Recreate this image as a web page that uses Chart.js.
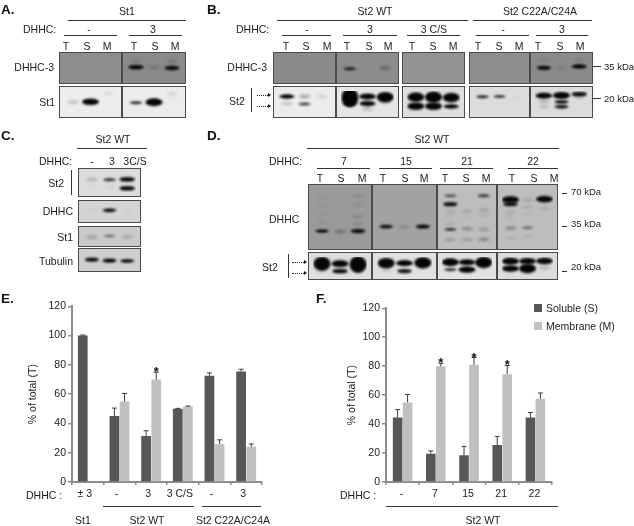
<!DOCTYPE html>
<html>
<head>
<meta charset="utf-8">
<title>DHHC blots</title>
<script src="https://cdn.jsdelivr.net/npm/chart.js@4"></script>
<style>
  html, body { margin: 0; padding: 0; background: #fff; }
  #fig { position: relative; width: 634px; height: 526px; overflow: hidden; font-family: "Liberation Sans", Arial, sans-serif; color: #222; }
  #fig span { position: absolute; font-size: 10.5px; line-height: 12px; white-space: nowrap; will-change: transform; }
  #fig span.panel { font-size: 13.5px; font-weight: bold; color: #111; }
  #fig span.kda { font-size: 9.5px; }
  #fig i { position: absolute; display: block; background: #333; }
  #fig i.dots { background: none; border-top: 1px dotted #222; }
  #fig canvas { position: absolute; }
</style>
</head>
<body>
<div id="fig"></div>
<script>
// bar chart E
const catsE = ["± 3", "-", "3", "3 C/S", "-", "3"];
const solubleE = [100, 45, 31.5, 50, 72.5, 75.5];
const membraneE = [null, 55, 70, 51.5, 26, 24];
const errSolubleE = [0.4, 5.5, 3.5, 0.3, 2, 1.5];
const errMembraneE = [null, 5.5, 5, 0.4, 2.8, 2];
const starsE = [null, null, "*", null, null, null];

// bar chart F
const catsF = ["-", "7", "15", "21", "22"];
const solubleF = [44.5, 19.5, 18.5, 25.5, 44.5];
const membraneF = [55, 80, 81, 74.5, 57.5];
const errSolubleF = [5.5, 2, 6, 6, 3.5];
const errMembraneF = [5.5, 2, 5, 6, 4];
const starsF = [null, "*", "*", "*", null];

// blot bands: lane, migration (% of the panel height), intensity
const lanes = ["T", "S", "M"];
const aTopRight = [["T", 46, 1.6], ["T", 16, 0.25], ["S", 48, 0.35], ["M", 50, 1.5], ["M", 18, 0.3]];
const aLowLeft = [["T", 50, 0.4], ["S", 49, 2.2], ["M", 12, 0.2]];
const aLowRight = [["T", 53, 0.9], ["S", 51, 2.6], ["M", 12, 0.25], ["M", 34, 0.12]];
const bTop3 = [["T", 53, 0.9], ["M", 50, 0.5]];
const bTopMutant = [["T", 49, 1.3], ["T", 10, 0.2], ["S", 49, 0.25], ["M", 43, 1.5], ["M", 12, 0.2]];
const bLowNone = [["T", 25, 1.5], ["T", 57, 0.4], ["S", 25, 0.5], ["S", 59, 0.8], ["M", 25, 0.25]];
const bLow3 = [["T", 30, 5], ["T", 58, 1], ["S", 25, 2], ["S", 57, 1.8], ["S", 82, 0.4], ["M", 28, 3.2], ["M", 50, 0.4]];
const bLowCS = [["T", 28, 3], ["T", 69, 2.5], ["S", 28, 3.5], ["S", 69, 2.5], ["M", 30, 3], ["M", 70, 1.5]];
const bLowMutNone = [["T", 26, 0.9], ["S", 25, 0.8], ["M", 28, 0.15]];
const bLowMut3 = [["T", 21, 2], ["T", 47, 0.4], ["T", 70, 0.3], ["S", 20, 2.3], ["S", 49, 1.2], ["S", 71, 1.2], ["M", 14, 1.6], ["M", 28, 0.3]];
const cSt2 = [["T", 33, 0.4], ["T", 68, 0.12], ["S", 35, 0.9], ["S", 75, 0.15], ["M", 33, 1.6], ["M", 80, 1.6]];
const cDhhc = [["T", 45, 0.12], ["S", 40, 1.1], ["M", 50, 0.1]];
const cSt1 = [["T", 54, 0.45], ["S", 46, 0.6], ["M", 53, 0.4]];
const cTubulin = [["T", 47, 1.3], ["S", 54, 1.3], ["M", 56, 1.2]];
const dTop7 = [["T", 75, 1], ["T", 15, 0.15], ["T", 30, 0.15], ["T", 45, 0.15], ["T", 58, 0.15], ["S", 76, 0.5], ["S", 48, 0.08],
  ["M", 75, 1.4], ["M", 12, 0.25], ["M", 28, 0.2], ["M", 50, 0.3], ["M", 62, 0.25]];
const dTop15 = [["T", 67, 1.1], ["S", 68, 0.35], ["M", 67, 1.3]];
const dTop21 = [["T", 12, 0.7], ["T", 27, 1.4], ["T", 40, 0.25], ["T", 48, 0.15], ["T", 62, 0.25], ["T", 72, 0.8], ["T", 90, 0.35],
  ["S", 40, 0.3], ["S", 50, 0.15], ["S", 71, 0.5], ["S", 90, 0.35], ["M", 12, 0.8], ["M", 38, 0.35], ["M", 47, 0.2], ["M", 72, 0.4], ["M", 90, 0.5]];
const dTop22 = [["T", 19, 2.4], ["T", 27, 1.4], ["T", 42, 0.25], ["T", 50, 0.15], ["T", 70, 0.5], ["T", 88, 0.2],
  ["S", 20, 0.3], ["S", 32, 0.25], ["S", 45, 0.15], ["S", 69, 0.6], ["S", 85, 0.2], ["M", 18, 2.2], ["M", 35, 0.25], ["M", 72, 0.08]];
const dLow7 = [["T", 37, 4], ["T", 72, 0.4], ["S", 37, 2.4], ["S", 78, 1.6], ["M", 42, 4.6]];
const dLow15 = [["T", 34, 3.2], ["T", 74, 0.3], ["S", 34, 2], ["S", 78, 1.4], ["M", 32, 3.5]];
const dLow21 = [["T", 29, 2.6], ["T", 70, 0.9], ["S", 29, 2], ["S", 70, 2.2], ["M", 30, 3.5]];
const dLow22 = [["T", 23, 2.4], ["T", 64, 2.2], ["S", 23, 2.2], ["S", 64, 3], ["M", 22, 2.2], ["M", 60, 0.4]];

const fig = document.getElementById("fig");
const DARK = "#575757";
const LIGHT = "#c0c0c0";
const AXIS = "#8c8c8c";
const FONT = "'Liberation Sans', Arial, sans-serif";

Chart.defaults.animation = false;
Chart.defaults.responsive = false;
Chart.defaults.plugins.legend.display = false;
Chart.defaults.plugins.tooltip.enabled = false;

function label(text, x, y, anchor) {
  const el = document.createElement("span");
  el.textContent = text;
  el.style.left = x + "px";
  el.style.top = y + "px";
  const dx = anchor === "c" ? "-50%" : anchor === "r" ? "-100%" : "0";
  el.style.transform = `translate(${dx}, -50%)`;
  fig.appendChild(el);
  return el;
}

function panelLetter(text, x, y) {
  label(text, x, y).className = "panel";
}

function kda(text, x, y) {
  label(text, x, y).className = "kda";
}

function rule(x1, x2, y, h) {
  const el = document.createElement("i");
  el.style.cssText = `left:${x1}px;top:${y}px;width:${x2 - x1}px;height:${h || 1.3}px`;
  fig.appendChild(el);
}

function vbar(x, y1, y2) {
  const el = document.createElement("i");
  el.style.cssText = `left:${x}px;top:${y1}px;width:1.5px;height:${y2 - y1}px`;
  fig.appendChild(el);
}

function arrow(x1, x2, y) {
  const line = document.createElement("i");
  line.className = "dots";
  line.style.cssText = `left:${x1}px;top:${y}px;width:${x2 - x1 - 3}px;height:0`;
  fig.appendChild(line);
  const head = document.createElement("i");
  head.style.cssText = `left:${x2 - 3}px;top:${y - 2}px;width:0;height:0;background:none;border-left:3px solid #111;border-top:2.5px solid transparent;border-bottom:2.5px solid transparent`;
  fig.appendChild(head);
}

function laneLetters(xs, y) {
  xs.forEach((x, i) => label(lanes[i % 3], x, y, "c"));
}

// soft band image, wider and thicker with intensity
const sprites = {};
function bandSprite(level) {
  if (sprites[level]) return sprites[level];
  const w = 9 + 4 * Math.min(level, 2);
  const h = 1.5 + 1.3 * level + 0.45 * level * level;
  const c = document.createElement("canvas");
  c.width = Math.ceil(w + 8);
  c.height = Math.ceil(h + 8);
  const g = c.getContext("2d");
  g.filter = level < 0.6 ? "blur(1.4px)" : "blur(0.9px)";
  g.fillStyle = `rgba(5,5,5,${Math.pow(Math.min(level, 1), 1.2)})`;
  g.beginPath();
  g.ellipse(c.width / 2, c.height / 2, w / 2, h / 2, 0, 0, Math.PI * 2);
  g.fill();
  sprites[level] = c;
  return c;
}

function blot(bands, x1, x2, y1, y2, bg) {
  const cv = document.createElement("canvas");
  cv.width = x2 - x1;
  cv.height = y2 - y1;
  cv.style.cssText = `left:${x1}px;top:${y1}px;background:${bg};outline:1px solid #4a4a4a;outline-offset:-1px`;
  fig.appendChild(cv);
  new Chart(cv, {
    type: "scatter",
    data: {
      labels: lanes,
      datasets: [{
        data: bands.map((b) => ({ x: b[0], y: b[1], level: b[2] })),
        pointRadius: 3,
        pointStyle: (ctx) => (ctx.raw ? bandSprite(ctx.raw.level) : "circle"),
        clip: 0,
      }],
    },
    options: {
      layout: { padding: 0 },
      scales: {
        x: { type: "category", labels: lanes, offset: true, display: false },
        y: { min: 0, max: 100, reverse: true, display: false },
      },
    },
  });
}

// error bars and stars, taken from the dataset's own arrays
const errorBars = {
  id: "errorBars",
  afterDatasetsDraw(chart) {
    const g = chart.ctx;
    const y = chart.scales.y;
    chart.data.datasets.forEach((ds, d) => {
      chart.getDatasetMeta(d).data.forEach((bar, i) => {
        const err = ds.errors[i];
        if (ds.data[i] === null || err === null) return;
        const top = y.getPixelForValue(ds.data[i] + err);
        g.save();
        g.strokeStyle = "#3c3c3c";
        g.lineWidth = 1;
        g.beginPath();
        g.moveTo(bar.x, bar.y);
        g.lineTo(bar.x, top);
        g.moveTo(bar.x - 2.5, top);
        g.lineTo(bar.x + 2.5, top);
        g.stroke();
        if (ds.stars && ds.stars[i]) {
          g.fillStyle = "#111";
          g.font = `bold 13px ${FONT}`;
          g.textAlign = "center";
          g.textBaseline = "alphabetic";
          g.fillText(ds.stars[i], bar.x, top + 4);
        }
        g.restore();
      });
    });
  },
};

function barChart(o) {
  const cv = document.createElement("canvas");
  cv.width = o.width;
  cv.height = o.height;
  cv.style.cssText = `left:${o.left}px;top:${o.top}px`;
  fig.appendChild(cv);
  return new Chart(cv, {
    type: "bar",
    plugins: [errorBars],
    data: {
      labels: o.cats,
      datasets: [
        { label: "Soluble (S)", data: o.soluble, errors: o.errSoluble, backgroundColor: DARK, categoryPercentage: o.catPct, barPercentage: 0.96 },
        { label: "Membrane (M)", data: o.membrane, errors: o.errMembrane, stars: o.stars, backgroundColor: LIGHT, categoryPercentage: o.catPct, barPercentage: 0.96 },
      ],
    },
    options: {
      layout: { padding: { top: o.padTop, right: o.padRight, left: 0, bottom: 0 } },
      scales: {
        x: {
          afterFit: (s) => { s.height = 20; },
          grid: { drawOnChartArea: false, color: AXIS, lineWidth: 1.5, tickLength: 3 },
          border: { color: AXIS, width: 2 },
          ticks: { color: "#222", font: { family: FONT, size: 10.5 }, padding: 3, maxRotation: 0, autoSkip: false, labelOffset: o.labelOffset },
        },
        y: {
          min: 0,
          max: 120,
          afterFit: (s) => { s.width = o.axisWidth; },
          grid: { drawOnChartArea: false, color: AXIS, lineWidth: 1.5, tickLength: 4 },
          border: { color: AXIS, width: 2 },
          ticks: { stepSize: 20, color: "#222", font: { family: FONT, size: 10.5 }, padding: 2 },
          title: { display: true, text: "% of total (T)", color: "#222", font: { family: FONT, size: 10.5 }, padding: { top: o.titlePad, bottom: 0 } },
        },
      },
    },
  });
}

// ---- panel A
panelLetter("A.", 1, 10);
label("St1", 127, 11, "c");
rule(68, 186, 19.5, 1.8);
label("DHHC:", 23, 29);
label("-", 89, 29, "c");
label("3", 153, 29, "c");
rule(64, 117, 35);
rule(129, 182, 35);
laneLetters([66, 87, 107, 134, 155, 175], 46);
label("DHHC-3", 54, 67, "r");
label("St1", 55, 102, "r");
blot([], 59, 122, 52, 84, "#8e8e8e");
blot(aTopRight, 122, 186, 52, 84, "#8a8a8a");
blot(aLowLeft, 59, 122, 86, 118, "#ededed");
blot(aLowRight, 122, 186, 86, 118, "#ececec");

// ---- panel B
panelLetter("B.", 207, 10);
label("St2 WT", 375, 11, "c");
label("St2 C22A/C24A", 540, 11, "c");
rule(277, 468, 19.5, 1.8);
rule(473, 592, 19.5, 1.8);
label("DHHC:", 236, 29);
[[282, 331, "-"], [343, 397, "3"], [407, 460, "3 C/S"], [476, 529, "-"], [536, 588, "3"]].forEach((s) => {
  rule(s[0], s[1], 35);
  label(s[2], (s[0] + s[1]) / 2, 29, "c");
});
laneLetters([286, 306, 327, 347, 369, 388, 412, 433, 453, 478, 499, 519, 538, 560, 580], 46);
label("DHHC-3", 267, 67, "r");
label("St2", 237, 101, "c");
vbar(250.5, 88, 112);
arrow(257, 271, 95);
arrow(257, 271, 106);
blot([], 273, 336, 52, 84, "#8a8a8a");
blot(bTop3, 336, 399, 52, 84, "#8c8c8c");
blot([], 402, 465, 52, 84, "#939393");
blot([], 469, 530, 52, 84, "#8e8e8e");
blot(bTopMutant, 530, 593, 52, 84, "#8a8a8a");
blot(bLowNone, 273, 336, 86, 118, "#ececec");
blot(bLow3, 336, 399, 86, 118, "#e6e6e6");
blot(bLowCS, 402, 465, 86, 118, "#dedede");
blot(bLowMutNone, 469, 530, 86, 118, "#dcdcdc");
blot(bLowMut3, 530, 593, 86, 118, "#dcdcdc");
rule(593, 601, 66, 1.4);
rule(593, 601, 98, 1.4);
kda("35 kDa", 604, 67);
kda("20 kDa", 604, 99);

// ---- panel C
panelLetter("C.", 1, 136);
label("St2 WT", 113, 139, "c");
rule(77, 147, 147.5, 1.5);
label("DHHC:", 39, 161);
label("-", 92, 161, "c");
label("3", 112, 161, "c");
label("3C/S", 135, 161, "c");
label("St2", 64, 183, "r");
vbar(70.5, 170, 195);
label("DHHC", 73, 211, "r");
label("St1", 73, 237, "r");
label("Tubulin", 73, 261, "r");
blot(cSt2, 78, 141, 168, 197, "#dcdcdc");
blot(cDhhc, 78, 141, 200, 223, "#d4d4d4");
blot(cSt1, 78, 141, 226, 247, "#cacaca");
blot(cTubulin, 78, 141, 248, 272, "#cecece");

// ---- panel D
panelLetter("D.", 207, 136);
label("St2 WT", 432, 139, "c");
rule(307, 559, 147.5, 1.5);
label("DHHC:", 269, 161);
[[317, 370, "7"], [379, 432, "15"], [440, 493, "21"], [508, 558, "22"]].forEach((s) => {
  rule(s[0], s[1], 168);
  label(s[2], (s[0] + s[1]) / 2, 161, "c");
});
laneLetters([320, 341, 362, 383, 405, 424, 445, 466, 486, 512, 534, 554], 178);
label("DHHC", 269, 219);
label("St2", 270, 267, "c");
vbar(287.5, 254, 278);
arrow(292, 307, 262);
arrow(292, 307, 273);
blot(dTop7, 308, 372, 184, 250, "#9a9a9a");
blot(dTop15, 372, 437, 184, 250, "#a2a2a2");
blot(dTop21, 437, 497, 184, 250, "#bdbdbd");
blot(dTop22, 497, 558, 184, 250, "#bebebe");
blot(dLow7, 308, 372, 252, 280, "#dedede");
blot(dLow15, 372, 437, 252, 280, "#e0e0e0");
blot(dLow21, 437, 497, 252, 280, "#e2e2e2");
blot(dLow22, 497, 558, 252, 280, "#dcdcdc");
rule(562, 567, 192.5, 1.4);
rule(562, 567, 225.5, 1.4);
rule(562, 567, 270.5, 1.4);
kda("70 kDa", 571, 192);
kda("35 kDa", 571, 224);
kda("20 kDa", 571, 267);

// ---- panel E
panelLetter("E.", 1, 299);
barChart({
  cats: catsE, soluble: solubleE, membrane: membraneE, errSoluble: errSolubleE, errMembrane: errMembraneE, stars: starsE,
  left: 20, top: 298, width: 245, height: 204, axisWidth: 52, padTop: 6, padRight: 3, titlePad: 7, catPct: 0.64, labelOffset: -3,
});
label("DHHC :", 26, 495);
rule(103, 194, 505.5, 1.3);
rule(202, 261, 505.5, 1.3);
label("St1", 83, 520, "c");
label("St2 WT", 147, 520, "c");
label("St2 C22A/C24A", 233, 520, "c");

// ---- panel F
panelLetter("F.", 316, 299);
const chartF = barChart({
  cats: catsF, soluble: solubleF, membrane: membraneF, errSoluble: errSolubleF, errMembrane: errMembraneF, stars: starsF,
  left: 340, top: 300, width: 214, height: 202, axisWidth: 46, padTop: 6, padRight: 2, titlePad: 6, catPct: 0.6, labelOffset: -1,
});
label("DHHC :", 340, 495);
rule(386, 558, 505.5, 1.3);
label("St2 WT", 483, 520, "c");

// legend for F
chartF.data.datasets.forEach((ds, i) => {
  const y = 308 + i * 18;
  const box = document.createElement("i");
  box.style.cssText = `left:534px;top:${y - 4}px;width:8px;height:8px;background:${ds.backgroundColor}`;
  fig.appendChild(box);
  label(ds.label, 546, y);
});
</script>
</body>
</html>
